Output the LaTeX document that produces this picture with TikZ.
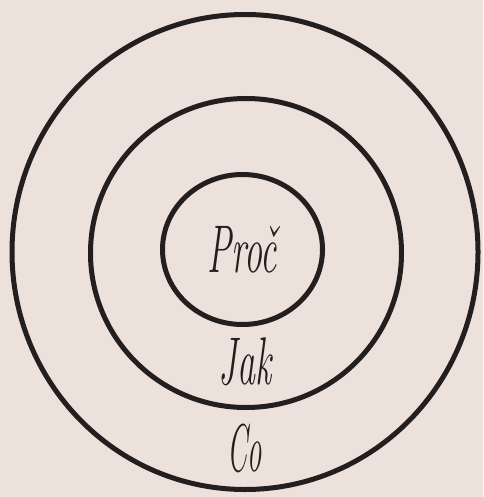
\documentclass[tikz,border=0pt]{standalone}
\usetikzlibrary{shapes.geometric}
\definecolor{paper}{RGB}{237,225,219}
\definecolor{ink}{RGB}{34,31,30}
\begin{document}
\begin{tikzpicture}[x=1pt,y=-1pt,
  ring/.style={draw=ink,line width=5pt,ellipse,inner sep=0pt,outer sep=0pt},
  word/.style={text=ink,font=\fontsize{50}{50}\selectfont\itshape,xscale=0.72,yscale=1.35,transform shape,inner sep=0pt}]
\fill[paper] (0,0) rectangle (483,497);
\useasboundingbox (0,0) rectangle (483,497);
\node[ring,minimum width=466pt,minimum height=475pt] (outer) at (245,252) {};
\node[ring,minimum width=311pt,minimum height=309pt] (middle) at (246,253) {};
\node[ring,minimum width=160pt,minimum height=150pt] (inner) at (242.5,249.5) {};
\node[word] (proc) at (242,250) {Proč};
\node[word] (jak) at (245,362) {Jak};
\node[word,xscale=0.8] (co) at (245,448) {Co};
\end{tikzpicture}
\end{document}
